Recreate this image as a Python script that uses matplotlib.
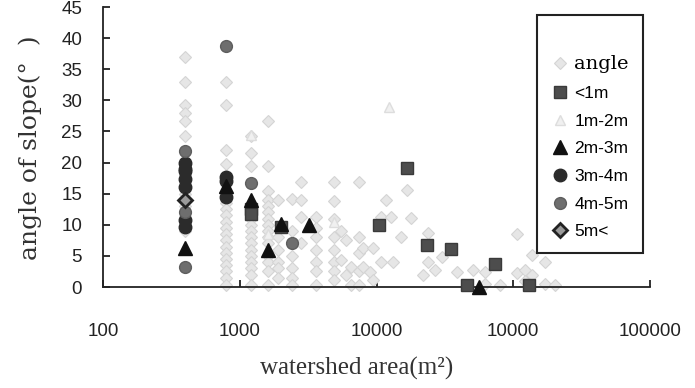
import numpy as np
import matplotlib
matplotlib.use("Agg")
import matplotlib.pyplot as plt

# all slope angles (light diamonds)
angle_area = [400, 400, 400, 400, 400, 400, 400, 400, 400, 400, 400, 400, 400, 400,
              800, 800, 800, 800, 800, 800, 800, 800, 800, 800, 800, 800, 800, 800, 800, 800, 800, 800, 800,
              1200, 1200, 1200, 1200, 1200, 1200, 1200, 1200, 1200, 1200, 1200, 1200, 1200, 1200, 1200,
              1600, 1600, 1600, 1600, 1600, 1600, 1600, 1600, 1600, 1600, 1600, 1600, 1600, 1600, 1600,
              1900, 1900, 1900, 1900, 1900, 1900,
              2400, 2400, 2400, 2400, 2400, 2400,
              2800, 2800, 2800, 2800,
              3600, 3600, 3600, 3600, 3600, 3600, 3600,
              4900, 4900, 4900, 4900, 4900, 4900, 4900, 4900,
              5500, 5500, 6000, 6000, 6500, 6500,
              7400, 7400, 7400, 7400, 7400,
              8000, 8000, 9000, 9500, 9500,
              10700, 10700, 11700, 12700, 13100, 15200, 16800, 18000, 21700,
              24000, 24000, 27000, 30300, 39000, 51000, 62500, 62500, 80400,
              107000, 107000, 122000, 122000, 138000, 138000, 171000, 171000, 203000]
angle_deg = [37, 33, 29.2, 28, 26.6, 24.2, 20, 18, 16, 15, 13, 12, 10, 9,
             33, 29.2, 22, 19.7, 14.5, 13.5, 12.5, 11.5, 10.5, 9.5, 8.5, 7.5, 6.5, 5.5, 4.5, 3.5, 2.5, 1.5, 0.3,
             24.2, 21.5, 19.4, 13, 11, 10, 9, 8, 7, 6, 5, 4, 3, 2, 0.3,
             26.6, 19.4, 15.5, 14, 13, 12, 11, 10, 9, 8, 7, 5, 4, 2.5, 0.3,
             14, 8, 6, 4, 3, 1.5,
             14.1, 9, 5, 3, 1.5, 0.3,
             16.8, 14, 11.3, 7,
             11.3, 9.5, 8, 6, 4, 2.5, 0.3,
             16.8, 13.8, 11, 8, 6, 4, 2.5, 1.2,
             9, 4.4, 7.5, 2, 3.2, 0.3,
             16.8, 8.1, 5.5, 2.5, 0.4,
             3.2, 6.3, 2.4, 6.3, 1.2,
             11.3, 4, 14, 11.3, 4, 8.1, 15.6, 11.1, 1.9,
             8.7, 4, 2.7, 4.8, 2.4, 2.7, 2.4, 0.5, 0.4,
             8.5, 2.3, 2.7, 1, 5.2, 1.9, 4, 0.5, 0.3]

# depth classes
lt1_area = [1200, 1200, 2000, 10500, 16800, 23500, 35200, 46100, 74000, 131000]
lt1_deg = [12.5, 11.8, 9.7, 10, 19.2, 6.8, 6.1, 0.4, 3.7, 0.3]

m12_area = [1200, 12300, 1600, 4900]
m12_deg = [24.5, 29, 8.5, 10.5]

m23_area = [400, 800, 1200, 1600, 2000, 3200, 56500]
m23_deg = [6.3, 16.2, 14, 6, 10.2, 9.9, 0]

m34_area = [400, 400, 400, 400, 400, 400, 400, 800, 800, 800]
m34_deg = [20, 18.6, 17.3, 16, 10.8, 9.7, 19, 17.7, 17, 14.4]

m45_area = [400, 400, 400, 800, 1200, 2400]
m45_deg = [21.8, 12, 3.2, 38.7, 16.7, 7.1]

m5_area = [400]
m5_deg = [14]

xticks = [1e2, 1e3, 1e4, 1e5, 1e6]
xticklabels = ["100", "1000", "10000", "10000", "100000"]
yticks = [0, 5, 10, 15, 20, 25, 30, 35, 40, 45]

numfont = "Liberation Sans"

fig = plt.figure(figsize=(6.95, 3.88), dpi=100)
ax = fig.add_axes([103 / 695, 1 - 287 / 388, 547 / 695, 280 / 388])

ax.plot(angle_area, angle_deg, ls="none", marker="D", ms=6.5, mfc="#e6e6e6",
        mec="#d4d4d4", mew=0.8, label="angle", clip_on=False, zorder=2)
ax.plot(lt1_area, lt1_deg, ls="none", marker="s", ms=8.5, mfc="#4d4d4d",
        mec="#3a3a3a", label="<1m", clip_on=False, zorder=3)
ax.plot(m12_area, m12_deg, ls="none", marker="^", ms=6.5, mfc="#f0f0f0",
        mec="#dddddd", label="1m-2m", clip_on=False, zorder=2)
ax.plot(m23_area, m23_deg, ls="none", marker="^", ms=9.5, mfc="#111111",
        mec="#111111", label="2m-3m", clip_on=False, zorder=4)
ax.plot(m34_area, m34_deg, ls="none", marker="o", ms=9, mfc="#2b2b2b",
        mec="#2b2b2b", label="3m-4m", clip_on=False, zorder=3)
ax.plot(m45_area, m45_deg, ls="none", marker="o", ms=8.5, mfc="#6e6e6e",
        mec="#5e5e5e", label="4m-5m", clip_on=False, zorder=3)
ax.plot(m5_area, m5_deg, ls="none", marker="D", ms=7, mfc="#9a9a9a",
        mec="#222222", mew=2, label="5m<", clip_on=False, zorder=4)

ax.set_xscale("log")
ax.set_xlim(1e2, 1e6)
ax.set_ylim(0, 45)
ax.set_xticks(xticks)
ax.set_xticklabels(xticklabels)
ax.xaxis.set_minor_locator(matplotlib.ticker.NullLocator())
ax.set_yticks(yticks)

for s in ["top", "right"]:
    ax.spines[s].set_visible(False)
for s in ["left", "bottom"]:
    ax.spines[s].set_linewidth(1.3)
    ax.spines[s].set_color("#222222")

ax.tick_params(axis="both", direction="in", length=5, width=1.3, color="#222222")
ax.tick_params(axis="x", pad=26)
ax.tick_params(axis="y", pad=15)
for lab in ax.get_xticklabels() + ax.get_yticklabels():
    lab.set_fontfamily(numfont)
    lab.set_fontsize(13.5)
    lab.set_color("#222222")

fig.text(30 / 695, 1 - 148 / 388, "angle of slope(°  )", rotation=90,
         ha="center", va="center", fontfamily="DejaVu Serif", fontsize=18, color="#333333")
fig.text(357 / 695, 1 - 368 / 388, "watershed area(m²)", ha="center", va="center",
         fontfamily="Liberation Serif", fontsize=18, color="#333333")

leg = ax.legend(loc="upper left", bbox_to_anchor=(537 / 695, 1 - 15 / 388),
                bbox_transform=fig.transFigure, frameon=True, fancybox=False,
                edgecolor="#222222", framealpha=1, borderpad=0.8, handlelength=1.0,
                handletextpad=0.35, labelspacing=0.72, title=" ", title_fontsize=10,
                prop={"family": "Liberation Sans", "size": 12.5}, borderaxespad=0)
leg.get_frame().set_linewidth(1.5)
leg.get_texts()[0].set_fontfamily("DejaVu Serif")
leg.get_texts()[0].set_fontsize(14)

fig.savefig("out.png", dpi=100)
